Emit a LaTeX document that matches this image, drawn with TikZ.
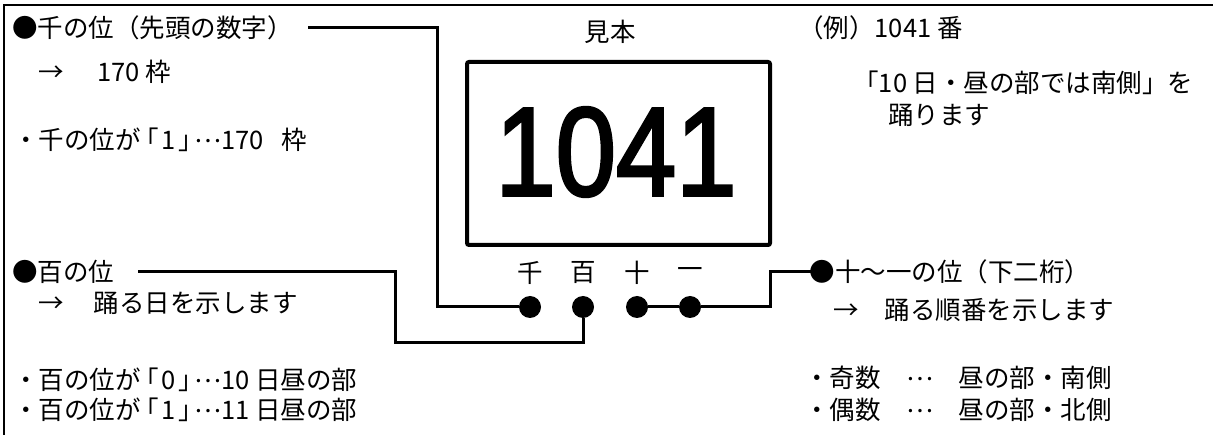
\documentclass[tikz,border=0pt]{standalone}
\usepackage{fontspec}
\setmainfont{Noto Sans CJK JP}
\newfontfamily\numfont[FakeBold=2.5]{Liberation Sans}
\newcommand\obr{\hspace{5pt}{\addfontfeature{RawFeature=+palt}「}\hspace{3pt}}
\newcommand\cbr{\hspace{3pt}{\addfontfeature{RawFeature=+palt}」}\hspace{3pt}}
\newcommand\jdots{\raisebox{0.3em}{…}}
\begin{document}
\begin{tikzpicture}[x=1pt,y=-1pt,
  txt/.style={inner sep=0pt, anchor=west, font=\fontsize{25.5}{30}\selectfont},
  lbl/.style={inner sep=0pt, font=\fontsize{25.5}{30}\selectfont},
  wire/.style={line width=3pt},
  pin/.style={circle, fill=black, minimum size=22pt, inner sep=0pt},
  frame/.style={line width=2.5pt}]
\useasboundingbox (0,0) rectangle (1213,435);
\draw[frame] (1213,5) -- (4,5) -- (4,435);
% sample plate
\node[lbl] (title) at (610,32) {見本};
\draw[line width=4pt, rounded corners=2pt] (467,62) rectangle (770,245);
\node[inner sep=0pt] (num) at (616,152) {\scalebox{0.86}[1]{\numfont\fontsize{126}{130}\selectfont 1041}};
% digit labels
\node[lbl] (k1) at (530,273) {千};
\node[lbl] (k2) at (583,273) {百};
\node[lbl] (k3) at (637,273) {十};
\node[lbl] (k4) at (690,273) {一};
\node[pin] (c1) at (530,307) {};
\node[pin] (c2) at (583,307) {};
\node[pin] (c3) at (637,307) {};
\node[pin] (c4) at (690,307) {};
% left texts
\node[txt] (t1) at (12,28) {●千の位（先頭の数字）};
\node[txt] (t2) at (38,72) {→\hspace{34pt}170 枠};
\node[txt] (t3) at (13,140) {・千の位が\obr 1\cbr\jdots 170 \hspace{12pt}枠};
\node[txt] (t4) at (12,272) {●百の位};
\node[txt] (t5) at (38,303) {→\hspace{30pt}踊る日を示します};
\node[txt] (t6) at (13,380) {・百の位が\obr 0\cbr\jdots 10 日昼の部};
\node[txt] (t7) at (13,410) {・百の位が\obr 1\cbr\jdots 11 日昼の部};
% right texts
\node[txt] (r1) at (798,28) {（例）1041 番};
\node[txt] (r2) at (866,83) {{\addfontfeature{RawFeature=+palt}「}10 日・昼の部では南側」を};
\node[txt] (r3) at (888,115) {踊ります};
\node[lbl] (b3) at (822,272) {●};
\node[txt] (r4) at (b3.east) {十〜一の位（下二桁）};
\node[txt] (r5) at (833,310) {→\hspace{26pt}踊る順番を示します};
\node[txt] (r6) at (804,378) {・奇数　\jdots　昼の部・南側};
\node[txt] (r7) at (804,410) {・偶数　\jdots　昼の部・北側};
% connectors
\coordinate (a1) at (308,28);
\coordinate (a2) at (138,272);
\draw[wire] (a1) -- (437,28) |- (c1);
\draw[wire] (a2) -- (395,272) |- (583,343) -- (c2);
\draw[wire] (c3) -- (c4);
\draw[wire] (c4) -- (770,307) |- (b3.center);
\end{tikzpicture}
\end{document}
